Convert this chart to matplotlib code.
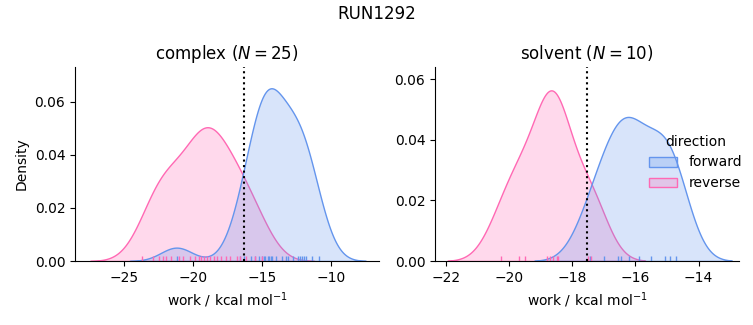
import matplotlib
matplotlib.use("Agg")
import matplotlib.pyplot as plt
import seaborn as sns
import pandas as pd

# work values (kcal/mol)
complex_forward = [-21.2, -16.6, -16.3, -15.8, -15.5, -15.2, -15.0, -14.9, -14.8,
                   -14.6, -14.5, -14.4, -14.3, -14.0, -13.6, -13.3, -13.1, -12.8,
                   -12.4, -12.3, -12.1, -12.0, -11.8, -11.4, -10.9]
complex_reverse = [-23.7, -22.9, -22.5, -22.2, -22.0, -21.6, -21.0, -20.7, -20.2,
                   -19.9, -19.6, -19.4, -19.2, -19.0, -18.8, -18.5, -18.3, -18.0,
                   -17.6, -17.3, -16.85, -16.6, -16.2, -15.5, -15.0]
solvent_forward = [-17.45, -17.0, -16.55, -16.45, -16.2, -15.9, -15.5, -15.05,
                   -14.9, -14.7]
solvent_reverse = [-20.25, -19.7, -19.5, -18.8, -18.7, -18.6, -18.5, -18.45,
                   -17.5, -17.4]
# free energy estimates (dotted lines)
dg_complex = -16.30
dg_solvent = -17.52

palette = {"forward": "cornflowerblue", "reverse": "hotpink"}

rows = []
for phase, fwd, rev in [("complex", complex_forward, complex_reverse),
                        ("solvent", solvent_forward, solvent_reverse)]:
    for w in fwd:
        rows.append((phase, "forward", w))
    for w in rev:
        rows.append((phase, "reverse", w))
df = pd.DataFrame(rows, columns=["phase", "direction", "work"])

# normalised over both phases together, like displot does
g = sns.displot(df, x="work", hue="direction", col="phase", kind="kde",
                fill=True, rug=True, common_norm=True, palette=palette,
                facet_kws=dict(sharex=False, sharey=False), height=3, aspect=1.2)
fig = g.figure
fig.set_size_inches(7.53, 3.25)
fig.set_dpi(100)

ax1, ax2 = g.axes.flat
ax1.set_position([0.0996, 0.1969, 0.4037, 0.5969])
ax2.set_position([0.5777, 0.1969, 0.4037, 0.5969])

limits = {"complex": ((-28.55, -6.55), 0.0731, dg_complex),
          "solvent": ((-22.35, -12.72), 0.0640, dg_solvent)}
for ax, phase in zip([ax1, ax2], ["complex", "solvent"]):
    xl, ytop, dg = limits[phase]
    n = int(((df.phase == phase) & (df.direction == "forward")).sum())
    ax.axvline(dg, color="k", ls=":", lw=1.5)
    ax.set_title(f"{phase} ($N = {n}$)", fontsize=12)
    ax.set_xlabel("work / kcal mol$^{-1}$")
    ax.set_xlim(*xl)
    ax.set_ylim(0, ytop)

ax1.set_ylabel("Density")
ax2.set_ylabel("")
sns.move_legend(g, "center right", bbox_to_anchor=(1.002, 0.5), frameon=False)

fig.suptitle("RUN1292", fontsize=12, y=0.985)
fig.savefig("out.png", dpi=100)
